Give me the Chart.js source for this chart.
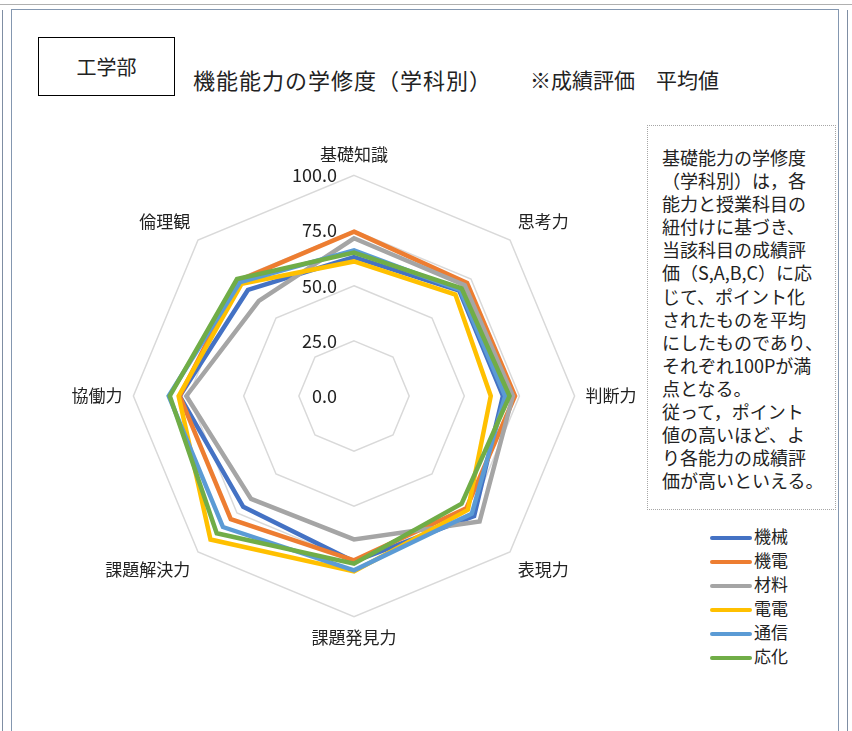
<!DOCTYPE html>
<html>
<head>
<meta charset="utf-8">
<script src="https://cdn.jsdelivr.net/npm/chart.js@4"></script>
<style>
  body { margin: 0; background: #fff; font-family: "Noto Sans CJK JP", sans-serif; color: #222; }
  .page { position: relative; width: 852px; height: 731px; overflow: hidden; }
  .topline { position: absolute; left: 0; top: 4px; width: 852px; border-top: 1px solid #b0b0b0; }
  .leftline { position: absolute; left: 2px; top: 10px; height: 740px; border-left: 1px solid #7f8ea3; }
  .rightline { position: absolute; left: 847px; top: 10px; height: 740px; border-left: 1px solid #7f8ea3; }
  .frame { position: absolute; left: 11px; top: 9px; width: 826px; height: 740px; border: 1px solid #8497b0; }
  .badge { position: absolute; left: 38px; top: 37px; width: 135px; height: 57px; border: 1.5px solid #000;
           font-size: 20px; line-height: 57px; text-align: center; }
  .title { position: absolute; top: 64px; font-size: 21px; white-space: nowrap; }
  .note { position: absolute; left: 647px; top: 125px; border: 1px dotted #a6a6a6;
          background: #fff; padding: 20px 0 0 14px; box-sizing: border-box; width: 189px; height: 385px;
          font-size: 18px; line-height: 23.1px; white-space: nowrap; }
  #chart { position: absolute; left: 54px; top: 144px; }
  .legend { position: absolute; left: 710px; top: 524px; font-size: 17px; }
  .legend div { height: 24px; line-height: 24px; white-space: nowrap; }
  .legend span { display: inline-block; width: 42px; height: 4px; border-radius: 2px; vertical-align: middle; margin-right: 2px; }
</style>
</head>
<body>
<div class="page">
  <div class="topline"></div>
  <div class="leftline"></div>
  <div class="rightline"></div>
  <div class="frame"></div>
  <div class="badge">工学部</div>
  <div class="title" style="left:193px; top:63px; font-size:22px; letter-spacing:1px">機能能力の学修度（学科別）</div>
  <div class="title" style="left:530px">※成績評価　平均値</div>
  <canvas id="chart" width="600" height="504"></canvas>
  <div class="note">基礎能力の学修度<br>（学科別）は，各<br>能力と授業科目の<br>紐付けに基づき、<br>当該科目の成績評<br>価（S,A,B,C）に応<br>じて、ポイント化<br>されたものを平均<br>にしたものであり、<br>それぞれ100Pが満<br>点となる。<br>従って，ポイント<br>値の高いほど、よ<br>り各能力の成績評<br>価が高いといえる。</div>
  <div class="legend" id="legend"></div>
</div>
<script>
// axes of the radar
const categories = ['基礎知識', '思考力', '判断力', '表現力', '課題発見力', '課題解決力', '協働力', '倫理観'];

// average points per department
const kikai   = [63, 67.5, 67.5, 77, 75, 71, 79, 68];     // 機械
const kiden   = [74.5, 72.5, 73, 72, 74.5, 79, 79, 74];   // 機電
const zairyo  = [71.5, 71, 72, 80.5, 65, 66, 76, 61];     // 材料
const denden  = [61, 65, 62, 73, 79.5, 92, 79.5, 72];     // 電電
const tsushin = [66, 68, 68.5, 75.5, 79, 84, 84, 73];     // 通信
const ouka    = [65, 69, 70.5, 69, 76, 88, 83.5, 75];     // 応化

const seriesNames = ['機械', '機電', '材料', '電電', '通信', '応化'];
const seriesValues = [kikai, kiden, zairyo, denden, tsushin, ouka];
const colors = ['#4472C4', '#ED7D31', '#A5A5A5', '#FFC000', '#5B9BD5', '#70AD47'];

const tickMin = 0, tickMax = 100, tickStep = 25;

// draw the value labels left of the vertical axis, like the original
const tickLabels = {
  id: 'tickLabels',
  afterDatasetsDraw(chart) {
    const s = chart.scales.r;
    const ctx = chart.ctx;
    ctx.save();
    ctx.font = '18px "Noto Sans CJK JP"';
    ctx.fillStyle = '#222';
    ctx.textAlign = 'right';
    ctx.textBaseline = 'middle';
    s.ticks.forEach(t => {
      const y = s.yCenter - s.getDistanceFromCenterForValue(t.value);
      ctx.fillText(t.label, s.xCenter - 17, y);
    });
    ctx.restore();
  }
};

const datasets = seriesNames.map((name, i) => ({
  label: name,
  data: seriesValues[i],
  borderColor: colors[i],
  backgroundColor: colors[i],
  borderWidth: 4.5,
  pointRadius: 0,
  fill: false,
  order: seriesNames.length - i
}));

new Chart(document.getElementById('chart'), {
  type: 'radar',
  data: { labels: categories, datasets: datasets },
  options: {
    responsive: false,
    animation: false,
    devicePixelRatio: 1,
    layout: { padding: 0 },
    plugins: { legend: { display: false }, tooltip: { enabled: false } },
    scales: {
      r: {
        min: tickMin,
        max: tickMax,
        ticks: {
          stepSize: tickStep,
          display: false,
          callback: v => v.toFixed(1)
        },
        grid: { color: '#d9d9d9', lineWidth: 1.5 },
        angleLines: { display: false },
        pointLabels: {
          font: { family: 'Noto Sans CJK JP', size: 17 },
          color: '#222',
          padding: 11
        }
      }
    }
  },
  plugins: [tickLabels]
});

// legend built from the same series
const legend = document.getElementById('legend');
seriesNames.forEach((name, i) => {
  const row = document.createElement('div');
  row.innerHTML = '<span style="background:' + colors[i] + '"></span>' + name;
  legend.appendChild(row);
});
</script>
</body>
</html>
